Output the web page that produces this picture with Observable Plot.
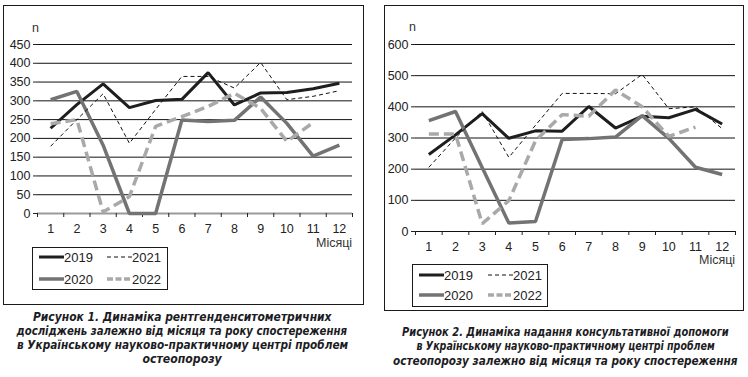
<!DOCTYPE html>
<html><head><meta charset="utf-8">
<script src="https://cdn.jsdelivr.net/npm/d3@7"></script>
<script src="https://cdn.jsdelivr.net/npm/@observablehq/plot@0.6"></script>
<style>
body{margin:0;width:748px;height:377px;background:#fff;position:relative;overflow:hidden;font-family:"Liberation Sans",Arial,sans-serif;}
.box{position:absolute;border:1px solid #1a1a1a;box-sizing:border-box;}
.abs{position:absolute;white-space:nowrap;}
.chart{position:absolute;top:0;}
.lbl{position:absolute;font-size:12.5px;color:#333;line-height:1;}
.legend{position:absolute;border:1px solid #1a1a1a;box-sizing:border-box;background:#fff;}
.capline{position:absolute;white-space:nowrap;font-family:"DejaVu Sans Condensed","Liberation Sans Narrow",sans-serif;font-weight:bold;font-style:italic;font-size:12px;line-height:12px;color:#1c1c24;transform-origin:center center;}
</style></head><body>
<div class="box" style="left:3px;top:5px;width:361px;height:300px"></div>
<div class="box" style="left:384px;top:5px;width:360px;height:306px"></div>
<div id="c1" class="chart" style="left:0px"></div>
<div id="c2" class="chart" style="left:375px"></div>
<div id="overlay"></div>
<script>
const months = [1,2,3,4,5,6,7,8,9,10,11,12];
const bounds = [0.5,1.5,2.5,3.5,4.5,5.5,6.5,7.5,8.5,9.5,10.5,11.5,12.5];
const years = ["2019","2020","2021","2022"];
const xLabel = "Місяці";
const yLabel = "n";

// Figure 1
const fig1Ticks = [0,50,100,150,200,250,300,350,400,450];
const fig1_2019 = [227,290,345,282,301,304,375,289,321,322,332,347];
const fig1_2020 = [303,325,182,0,0,249,245,248,310,240,153,182];
const fig1_2021 = [179,250,319,187,277,365,365,334,402,303,312,327];
const fig1_2022 = [239,250,4,45,232,258,285,320,280,192,242,null];
const fig1Caption = ["Рисунок 1. Динаміка рентгенденситометричних","досліджень залежно від місяця та року спостереження","в Українському науково-практичному центрі проблем","остеопорозу"];

// Figure 2
const fig2Ticks = [0,100,200,300,400,500,600];
const fig2_2019 = [247,310,378,299,323,322,401,332,370,365,392,345];
const fig2_2020 = [356,385,205,27,32,295,298,303,372,299,206,183];
const fig2_2021 = [206,300,385,238,341,443,443,442,504,394,400,330];
const fig2_2022 = [313,313,25,99,291,375,370,454,400,305,335,null];
const fig2Caption = ["Рисунок 2. Динаміка надання консультативної допомоги","в Українському науково-практичному центрі проблем","остеопорозу залежно від місяця та року спостереження"];

const styles = {
  "2019": {stroke:"#1e1e1e", strokeWidth:3, dash:null},
  "2020": {stroke:"#737373", strokeWidth:3.5, dash:null},
  "2021": {stroke:"#111", strokeWidth:1, dash:"4,3"},
  "2022": {stroke:"#a9a9a9", strokeWidth:3.5, dash:"10,5"}
};

function toRows(series){
  const rows=[];
  series.forEach((vals,k)=>vals.forEach((v,i)=>{ if(v!=null) rows.push({year:years[k],month:months[i],value:v}); }));
  return rows;
}

function makeChart(series, ticks, o){
  const rows = toRows(series);
  const lineMarks = years.map(y => Plot.line(rows.filter(r=>r.year===y), {
    x:"month", y:"value", stroke: styles[y].stroke, strokeWidth: styles[y].strokeWidth,
    strokeDasharray: styles[y].dash || undefined, strokeLinejoin:"miter", strokeLinecap:"butt"
  }));
  return Plot.plot({
    width:o.width, height:o.height,
    marginLeft:o.ml, marginRight:o.mr, marginTop:o.mt, marginBottom:o.mb,
    style:{fontSize:"12.5px", fontFamily:"'Liberation Sans', Arial, sans-serif", color:"#222", background:"transparent"},
    x:{domain:[0.5,12.5], axis:null},
    y:{domain:[0, ticks[ticks.length-1]], axis:null},
    marks:[
      Plot.ruleY(ticks.filter(t=>t>0), {stroke:"#111", strokeWidth:1}),
      Plot.ruleY([0], {stroke:o.zeroColor, strokeWidth:o.zeroWidth}),
      Plot.axisY({ticks, tickSize:4, tickPadding:3, label:null, tickFormat:d=>String(d)}),
      Plot.axisX({ticks:bounds, tickSize:4, label:null, tickFormat:()=>""}),
      Plot.axisX({ticks:months, tickSize:0, tickPadding:11, label:null, tickFormat:d=>String(d)}),
      ...lineMarks
    ]
  });
}

document.getElementById("c1").append(makeChart([fig1_2019,fig1_2020,fig1_2021,fig1_2022], fig1Ticks,
  {width:370, height:240, ml:37, mr:18, mt:44, mb:27, zeroColor:"#9a9a9a", zeroWidth:2}));
document.getElementById("c2").append(makeChart([fig2_2019,fig2_2020,fig2_2021,fig2_2022], fig2Ticks,
  {width:373, height:260, ml:40, mr:13, mt:44, mb:29, zeroColor:"#111", zeroWidth:1}));

const ov = document.getElementById("overlay");
function addText(txt, left, top, cls, extra){
  const d=document.createElement("div"); d.className=cls; d.textContent=txt;
  d.style.left=left+"px"; d.style.top=top+"px"; if(extra) Object.assign(d.style, extra);
  ov.append(d); return d;
}
// axis titles
addText(yLabel, 32, 22, "lbl");
addText(yLabel, 409, 21, "lbl");
const m1 = addText(xLabel, 0, 237, "lbl"); m1.style.left=(352-m1.offsetWidth)+"px";
const m2 = addText(xLabel, 0, 254, "lbl"); m2.style.left=(735-m2.offsetWidth)+"px";

function legend(left, top, w, h, r1, r2, c1x, c2x){
  const L=document.createElement("div"); L.className="legend";
  Object.assign(L.style,{left:left+"px",top:top+"px",width:w+"px",height:h+"px"});
  ov.append(L);
  const items=[["2019",c1x,r1],["2021",c2x,r1],["2020",c1x,r2],["2022",c2x,r2]];
  items.forEach(([y,x,ry])=>{
    const s=styles[y];
    const svg=d3.create("svg").attr("width",26).attr("height",8)
      .style("position","absolute").style("left",(x-left-1)+"px").style("top",(ry-top-1-4)+"px");
    svg.append("line").attr("x1",0).attr("x2",25).attr("y1",4).attr("y2",4)
      .attr("stroke",s.stroke).attr("stroke-width",s.strokeWidth)
      .attr("stroke-dasharray", y==="2021"?"4,3":(y==="2022"?"6,2.5":null));
    L.append(svg.node());
    const t=document.createElement("div"); t.className="lbl"; t.textContent=y;
    Object.assign(t.style,{left:(x-left-1+25)+"px", top:(ry-top-1-6.5)+"px", fontSize:"13px", color:"#222"});
    L.append(t);
  });
}
legend(32,247,136,43,257,279,39,107);
legend(412,264,136,43,275,295,419,488);

function caption(lines, cx, tops, widths){
  lines.forEach((ln,i)=>{
    const d=addText(ln,0,tops[i]-6,"capline");
    const w=d.offsetWidth;
    d.style.left=(cx-w/2)+"px";
    if(widths[i]) d.style.transform="scaleX("+(widths[i]/w)+")";
  });
}
caption(fig1Caption, 182, [317,331,345,359], [299,331,331,79]);
caption(fig2Caption, 565, [332,346,361], [327,298,344]);
</script>
</body></html>
